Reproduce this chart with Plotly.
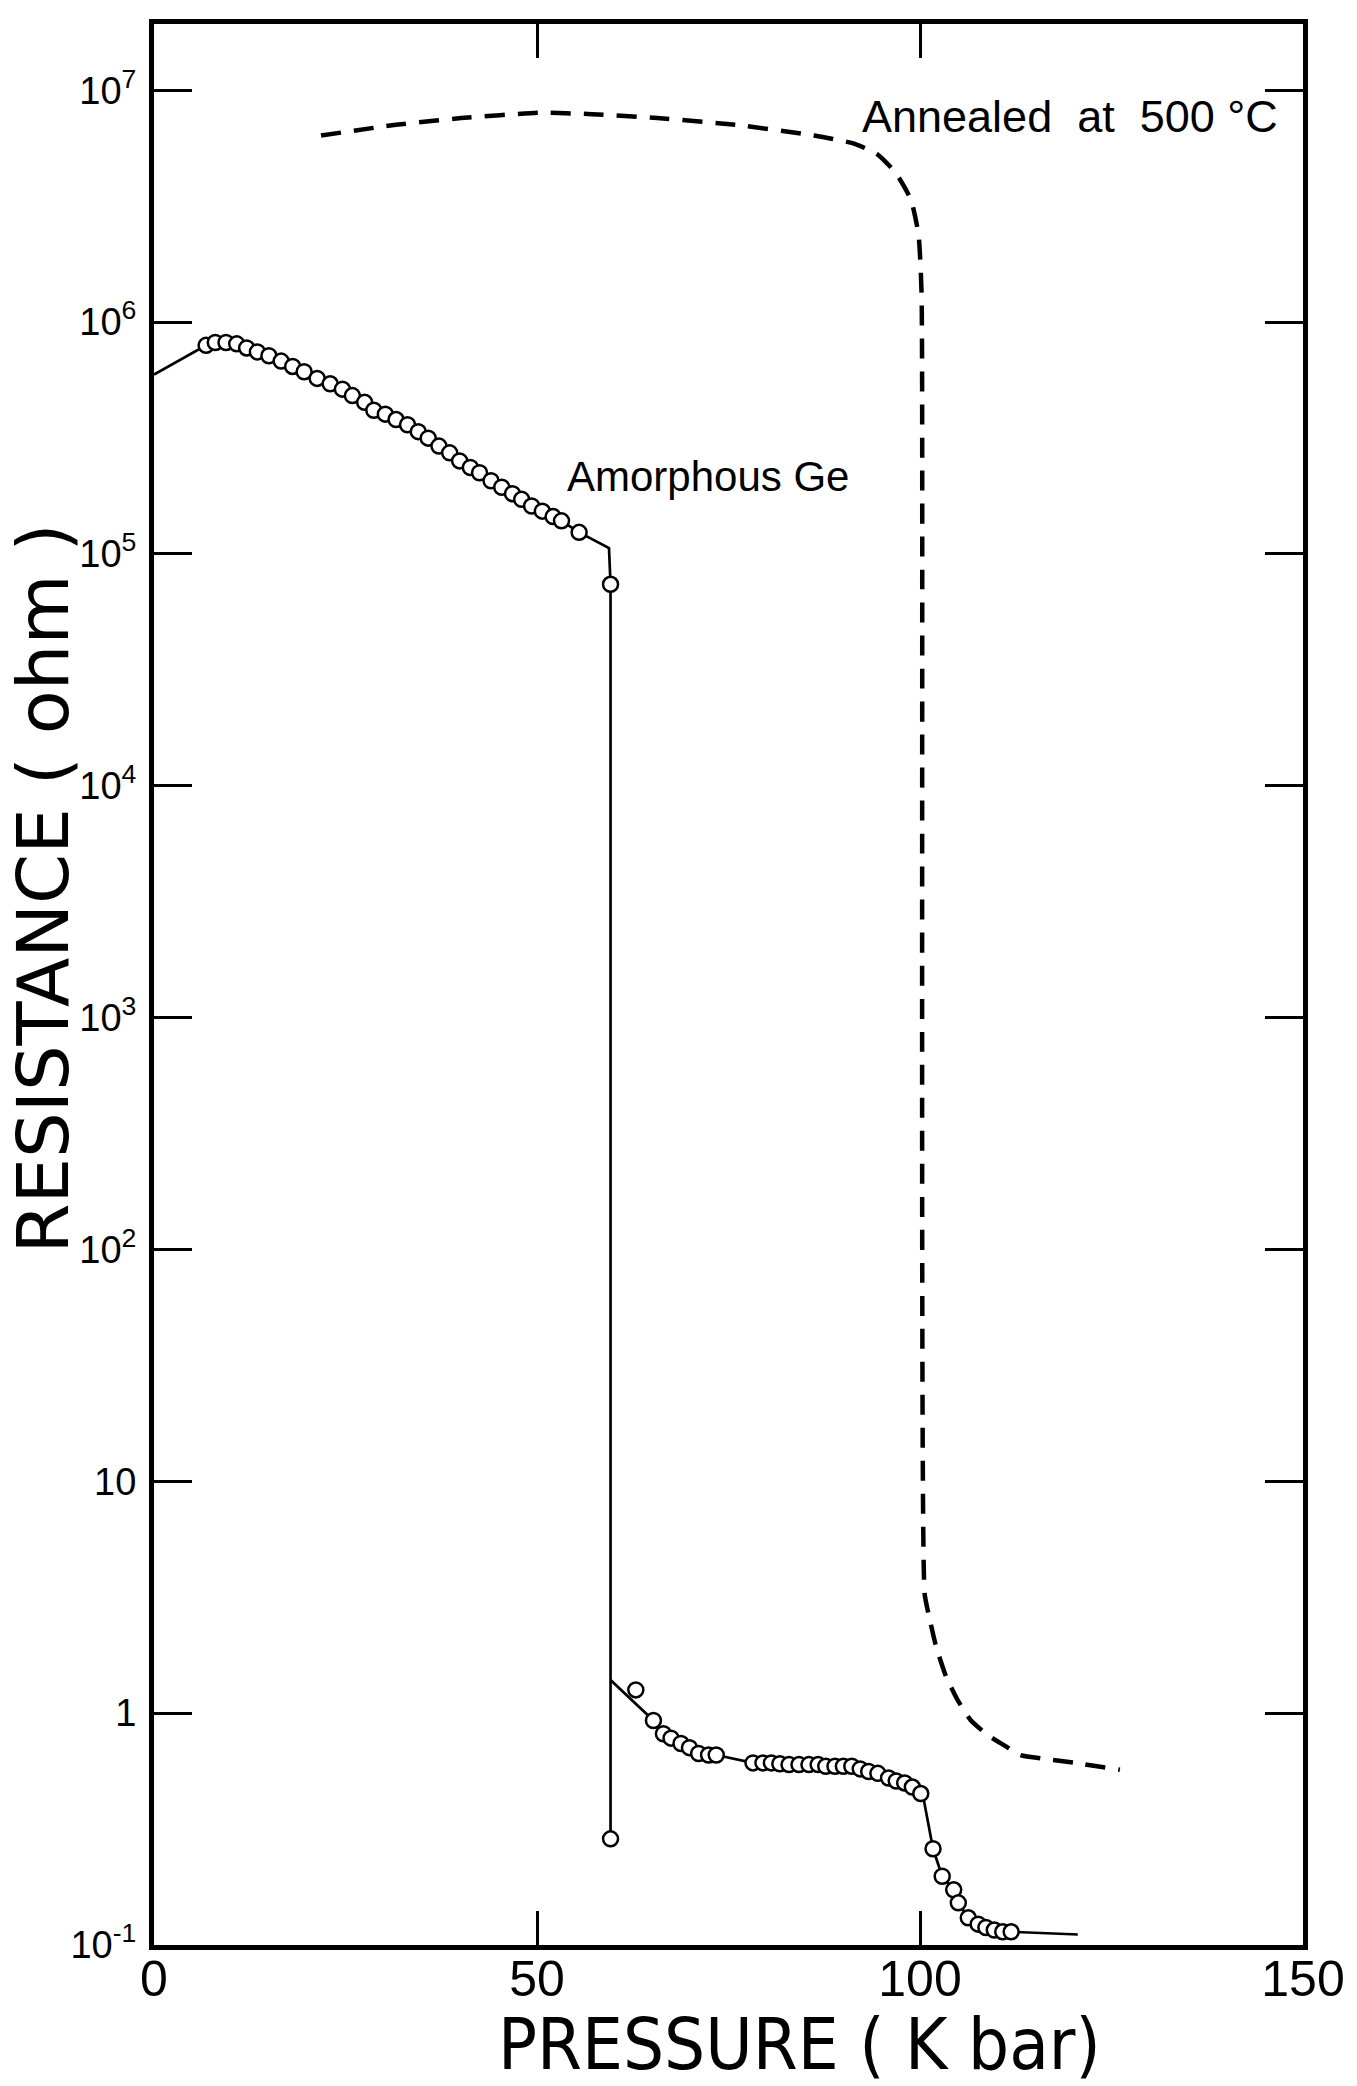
import plotly.graph_objects as go

# ---- data (pressure in kbar, resistance in ohm) ----
# amorphous Ge, first branch (open circles)
upper_p = [6.8, 8.0, 9.4, 10.8, 12.1, 13.5, 15.0, 16.6, 18.1, 19.6, 21.3, 23.0, 24.6, 25.9,
           27.5, 28.7, 30.2, 31.6, 33.1, 34.5, 35.8, 37.2, 38.6, 39.9, 41.3, 42.5, 44.0, 45.4,
           46.8, 48.0, 49.3, 50.7, 52.1, 53.2, 55.5]
upper_r = [7.94e5, 8.17e5, 8.17e5, 8.06e5, 7.74e5, 7.44e5, 7.16e5, 6.79e5, 6.44e5, 6.11e5,
           5.72e5, 5.42e5, 5.14e5, 4.82e5, 4.51e5, 4.17e5, 4.01e5, 3.80e5, 3.61e5, 3.37e5,
           3.16e5, 2.92e5, 2.73e5, 2.52e5, 2.36e5, 2.24e5, 2.07e5, 1.94e5, 1.82e5, 1.72e5,
           1.61e5, 1.53e5, 1.45e5, 1.39e5, 1.24e5]
# line start at zero pressure and the knee before the drop
upper_start_p = [0.0]
upper_start_r = [5.94e5]
knee_p = [59.4]
knee_r = [1.06e5]
# points on the vertical drop (open circles)
drop_p = [59.6, 59.6]
drop_r = [7.4e4, 0.287]

# amorphous Ge, second branch (open circles)
lower_start_p = [59.6]
lower_start_r = [1.39]
outlier_p = [62.9]
outlier_r = [1.26]
lower_p = [65.2, 66.5, 67.5, 68.8, 69.9, 71.1, 72.4, 73.4, 78.2, 79.5, 80.6, 81.7, 82.9,
           84.2, 85.5, 86.7, 87.7, 88.9, 90.0, 91.1, 92.2, 93.3, 94.5, 95.9, 96.9, 98.0,
           99.0, 100.1]
lower_r = [0.93, 0.815, 0.78, 0.74, 0.71, 0.67, 0.66, 0.66, 0.61, 0.61, 0.61, 0.605, 0.60,
           0.60, 0.60, 0.60, 0.59, 0.59, 0.59, 0.59, 0.575, 0.56, 0.55, 0.525, 0.51, 0.50,
           0.48, 0.45]
knee2_p = [100.4]
knee2_r = [0.44]
tail_p = [101.7, 102.9, 104.4, 105.0, 106.3, 107.6, 108.6, 109.7, 110.8, 111.9]
tail_r = [0.26, 0.198, 0.173, 0.152, 0.131, 0.123, 0.119, 0.116, 0.114, 0.114]
tail_end_p = [120.6]
tail_end_r = [0.111]

# annealed at 500 C (dashed)
annealed_p = [21.8, 31.6, 40.1, 50.3, 57.2, 65.7, 75.9, 86.2, 91.3, 94.4, 96.8, 98.8, 99.8,
              100.2, 100.6, 101.1, 102.1, 103.4, 104.9, 106.6, 108.8, 110.9, 113.1, 116.5,
              120.3, 126.1]
annealed_r = [6.38e6, 7.10e6, 7.59e6, 8.00e6, 7.89e6, 7.59e6, 7.10e6, 6.38e6, 5.90e6, 5.31e6,
              4.42e6, 3.39e6, 2.40e6, 1.35e6, 3.28, 2.69, 1.94, 1.44, 1.14, 0.935, 0.806,
              0.73, 0.66, 0.634, 0.61, 0.57]

# axis ticks
x_ticks = [0, 50, 100, 150]
x_labels = ["0", "50", "100", "150"]
y_ticks = [1e-1, 1, 10, 1e2, 1e3, 1e4, 1e5, 1e6, 1e7]
y_labels = ["10<sup>-1</sup>", "1", "10", "10<sup>2</sup>", "10<sup>3</sup>",
            "10<sup>4</sup>", "10<sup>5</sup>", "10<sup>6</sup>", "10<sup>7</sup>"]

FONT = "Liberation Sans, Arial, sans-serif"
COND = "DejaVu Sans Condensed, Liberation Sans, sans-serif"
WIDE = "DejaVu Sans, Liberation Sans, sans-serif"

fig = go.Figure()

# dashed annealed curve
fig.add_trace(go.Scatter(x=annealed_p, y=annealed_r, mode="lines",
                         line=dict(color="black", width=4.5, dash="20px,13px",
                                   shape="spline", smoothing=0.5),
                         hoverinfo="skip", showlegend=False))

# solid lines
line_up_p = upper_start_p + upper_p + knee_p + drop_p
line_up_r = upper_start_r + upper_r + knee_r + drop_r
fig.add_trace(go.Scatter(x=line_up_p, y=line_up_r, mode="lines",
                         line=dict(color="black", width=2.7),
                         hoverinfo="skip", showlegend=False))
line_lo_p = lower_start_p + lower_p + knee2_p + tail_p + tail_end_p
line_lo_r = lower_start_r + lower_r + knee2_r + tail_r + tail_end_r
fig.add_trace(go.Scatter(x=line_lo_p, y=line_lo_r, mode="lines",
                         line=dict(color="black", width=2.7),
                         hoverinfo="skip", showlegend=False))

# open circles
circ_p = upper_p + drop_p + outlier_p + lower_p + tail_p
circ_r = upper_r + drop_r + outlier_r + lower_r + tail_r
fig.add_trace(go.Scatter(x=circ_p, y=circ_r, mode="markers",
                         marker=dict(symbol="circle", size=15, color="white",
                                     line=dict(color="black", width=2.5)),
                         hoverinfo="skip", showlegend=False))

fig.update_layout(
    width=1357, height=2086,
    margin=dict(l=154, r=42, t=24, b=141),
    paper_bgcolor="white", plot_bgcolor="white",
    font=dict(family=FONT, color="black"),
    showlegend=False,
)

fig.update_xaxes(
    range=[0, 150], tickmode="array", tickvals=x_ticks, ticktext=x_labels,
    showgrid=False, zeroline=False,
    showline=True, linecolor="black", linewidth=5, mirror="ticks",
    ticks="inside", ticklen=34, tickwidth=3, tickcolor="black",
    tickfont=dict(size=50, family=FONT), ticklabelstandoff=-14,
)
fig.update_yaxes(
    type="log", range=[-1, 7.286], tickmode="array", tickvals=y_ticks, ticktext=y_labels,
    showgrid=False, zeroline=False,
    showline=True, linecolor="black", linewidth=5, mirror="ticks",
    ticks="inside", ticklen=38, tickwidth=3, tickcolor="black",
    tickfont=dict(size=38, family=FONT), ticklabelstandoff=5,
)

# axis titles
fig.add_annotation(text="PRESSURE ( K bar)", xref="paper", yref="paper",
                   x=0.562, y=-0.0515, xanchor="center", yanchor="middle",
                   showarrow=False, font=dict(size=72, family=COND))
fig.add_annotation(text="RESISTANCE ( ohm )", xref="paper", yref="paper",
                   x=-0.0965, y=0.55, xanchor="center", yanchor="middle", textangle=-90,
                   showarrow=False, font=dict(size=72, family=WIDE))

# curve labels
fig.add_annotation(text="Amorphous Ge", x=72.3, y=5.336, xref="x", yref="y",
                   showarrow=False, font=dict(size=42, family=FONT))
fig.add_annotation(text="Annealed  at  500 °C", x=119.6, y=6.885, xref="x", yref="y",
                   showarrow=False, font=dict(size=45, family=FONT))

fig.write_html("out.html")
